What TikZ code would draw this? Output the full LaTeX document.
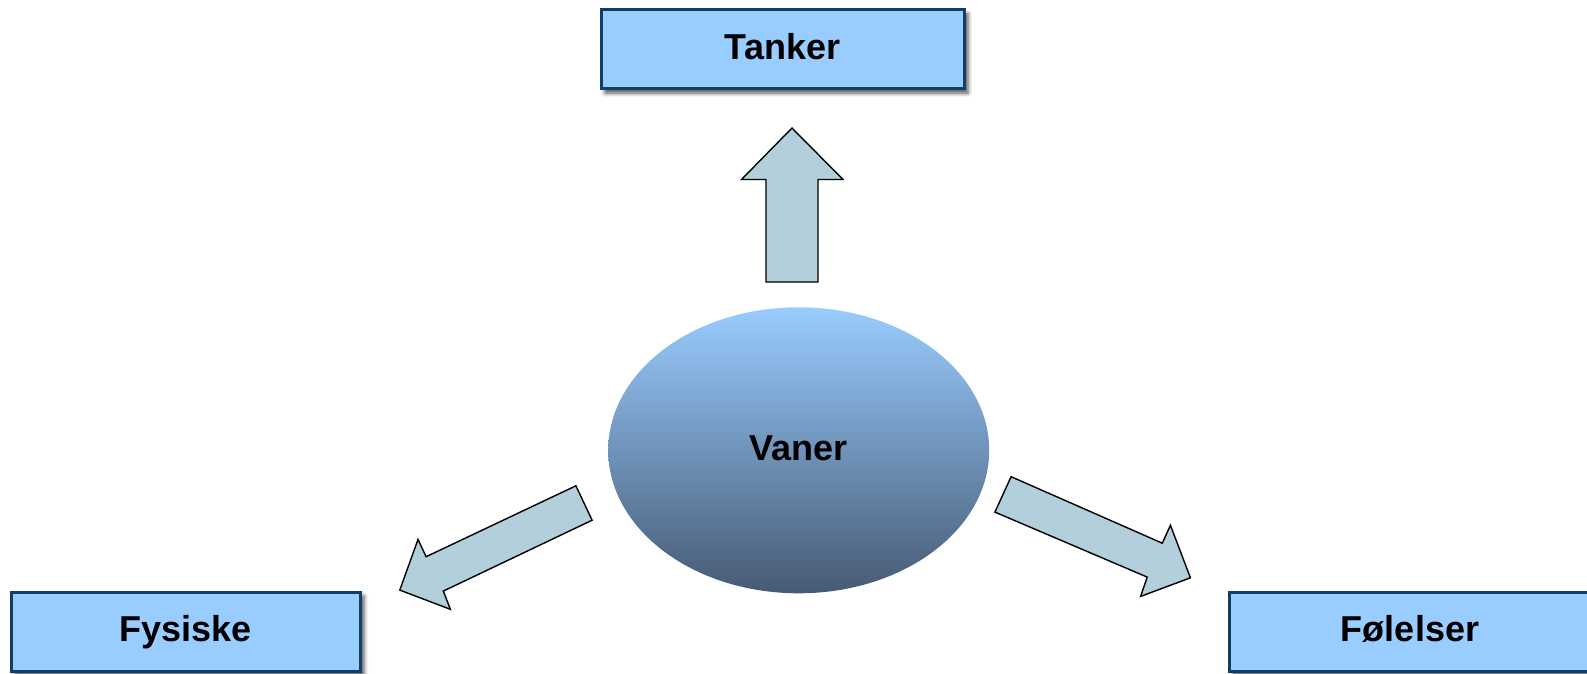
\documentclass[tikz,border=0pt]{standalone}
\usepackage{fontspec}
\setmainfont{Liberation Sans}
\usetikzlibrary{shapes.geometric,shadows.blur}
\definecolor{boxfill}{HTML}{99CCFF}
\definecolor{boxline}{HTML}{0F3F66}
\definecolor{arrowfill}{HTML}{B3CFDB}
\definecolor{elltop}{HTML}{99CCFF}
\definecolor{ellbot}{HTML}{465A74}
\tikzset{
  labelbox/.style={rectangle, draw=boxline, line width=3pt, fill=boxfill,
    minimum height=79pt, inner sep=0pt, text height=27pt, text depth=6.5pt,
    font=\fontsize{36}{42}\selectfont\bfseries,
    blur shadow={shadow xshift=4pt, shadow yshift=-4pt, shadow blur radius=4pt, shadow opacity=70}},
  centreell/.style={ellipse, draw=none, top color=elltop, bottom color=ellbot,
    minimum width=381pt, minimum height=286pt, inner sep=0pt, text height=27pt, text depth=6.5pt,
    font=\fontsize{36}{42}\selectfont\bfseries},
  blockarrow/.style={draw=black, line width=1.4pt, fill=arrowfill, line join=miter}
}
\begin{document}
\begin{tikzpicture}[x=1pt,y=-1pt]
\useasboundingbox (0,0) rectangle (1587,674);
\node[labelbox, minimum width=363pt] (tanker) at (782.5,49.5) {Tanker};
\node[labelbox, minimum width=349pt] (fysiske) at (185.5,631.5) {Fysiske};
\node[labelbox, minimum width=362pt] (folelser) at (1410,631.5) {Følelser};
\node[centreell] (vaner) at (798.7,450.3) {Vaner};
% up arrow
\coordinate (u1) at (792,128);
\coordinate (u2) at (843,179.5);
\coordinate (u3) at (818,179.5);
\coordinate (u4) at (818,282);
\coordinate (u5) at (766,282);
\coordinate (u6) at (766,179.5);
\coordinate (u7) at (741.5,179.5);
\draw[blockarrow] (u1) -- (u2) -- (u3) -- (u4) -- (u5) -- (u6) -- (u7) -- cycle;
% left arrow
\coordinate (l1) at (575.9,485.8);
\coordinate (l2) at (592.1,520.2);
\coordinate (l3) at (443.3,591.1);
\coordinate (l4) at (450.4,609.3);
\coordinate (l5) at (399.8,590.1);
\coordinate (l6) at (418.0,539.4);
\coordinate (l7) at (426.1,556.7);
\draw[blockarrow] (l1) -- (l2) -- (l3) -- (l4) -- (l5) -- (l6) -- (l7) -- cycle;
% right arrow
\coordinate (r1) at (1011.1,476.7);
\coordinate (r2) at (994.9,512.1);
\coordinate (r3) at (1147.2,577.1);
\coordinate (r4) at (1140.6,596.4);
\coordinate (r5) at (1190.4,577.8);
\coordinate (r6) at (1170.4,525.2);
\coordinate (r7) at (1162.3,543.2);
\draw[blockarrow] (r1) -- (r7) -- (r6) -- (r5) -- (r4) -- (r3) -- (r2) -- cycle;
\end{tikzpicture}
\end{document}
